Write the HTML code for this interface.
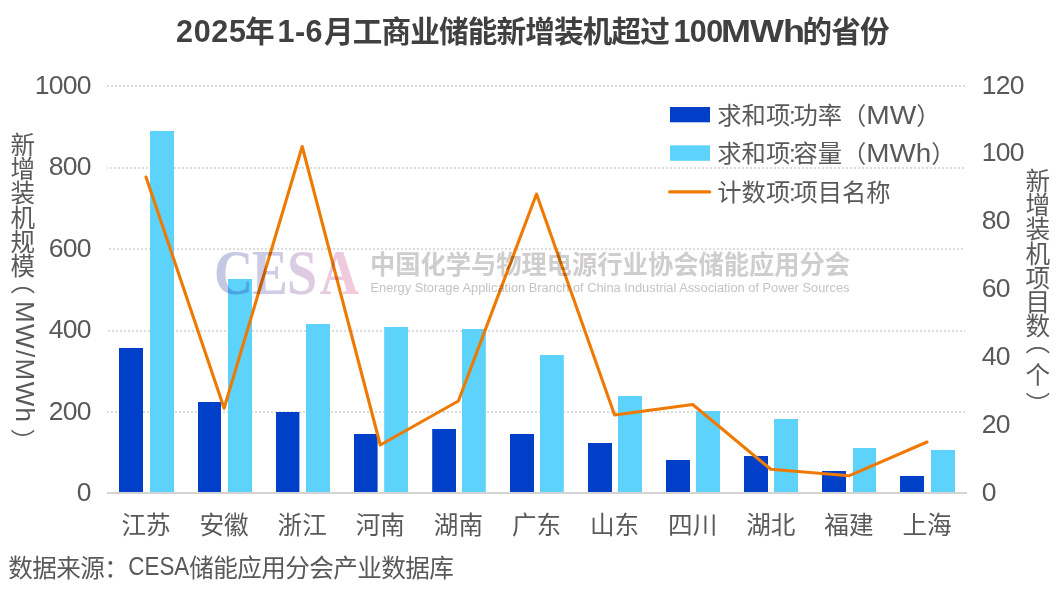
<!DOCTYPE html>
<html lang="zh-CN"><head><meta charset="utf-8"><title>2025年1-6月工商业储能新增装机超过100MWh的省份</title>
<style>html,body{margin:0;padding:0;background:#fff;}body{width:1064px;height:589px;overflow:hidden;}svg{display:block;position:absolute;left:0;top:0;}.vt{position:absolute;writing-mode:vertical-rl;text-orientation:mixed;font-family:'Liberation Sans','Noto Sans CJK SC',sans-serif;font-size:24.6px;line-height:24px;width:24px;letter-spacing:-0.3px;color:#595959;white-space:nowrap;}.lat{font-size:26px;letter-spacing:1.4px;position:relative;left:5px;top:-1px;}.pl{position:relative;top:-9px;}.pr{position:relative;top:4px;}text{font-family:'Liberation Sans','Noto Sans CJK SC',sans-serif;fill:#595959;}</style></head><body>
<svg width="1064" height="589" viewBox="0 0 1064 589">
<defs><linearGradient id="wg" x1="0" y1="0" x2="1" y2="0"><stop offset="0" stop-color="#C3C7E3"/><stop offset="0.45" stop-color="#D2CCE5"/><stop offset="0.7" stop-color="#E2CBE0"/><stop offset="1" stop-color="#F5CADC"/></linearGradient></defs>
<rect width="1064" height="589" fill="#fff"/>
<line x1="107.0" y1="86" x2="965.0" y2="86" stroke="#DCDCDC" stroke-width="2" stroke-dasharray="2 2" stroke-dashoffset="0"/>
<line x1="107.0" y1="168" x2="965.0" y2="168" stroke="#DCDCDC" stroke-width="2" stroke-dasharray="2 2" stroke-dashoffset="1"/>
<line x1="107.0" y1="249" x2="965.0" y2="249" stroke="#DCDCDC" stroke-width="2" stroke-dasharray="2 2" stroke-dashoffset="2"/>
<line x1="107.0" y1="331" x2="965.0" y2="331" stroke="#DCDCDC" stroke-width="2" stroke-dasharray="2 2" stroke-dashoffset="3"/>
<line x1="107.0" y1="412" x2="965.0" y2="412" stroke="#DCDCDC" stroke-width="2" stroke-dasharray="2 2" stroke-dashoffset="0"/>
<rect x="119" y="348" width="24" height="145" fill="#0040C8"/>
<rect x="150" y="131" width="24" height="362" fill="#5DD3FC"/>
<rect x="198" y="402" width="23" height="91" fill="#0040C8"/>
<rect x="228" y="279" width="24" height="214" fill="#5DD3FC"/>
<rect x="276" y="412" width="23.4" height="81" fill="#0040C8"/>
<rect x="306" y="324" width="24" height="169" fill="#5DD3FC"/>
<rect x="354" y="434" width="23.6" height="59" fill="#0040C8"/>
<rect x="384.2" y="327" width="23.8" height="166" fill="#5DD3FC"/>
<rect x="432.2" y="429" width="23.8" height="64" fill="#0040C8"/>
<rect x="462" y="329" width="23.8" height="164" fill="#5DD3FC"/>
<rect x="510" y="434" width="24" height="59" fill="#0040C8"/>
<rect x="540" y="355" width="23.8" height="138" fill="#5DD3FC"/>
<rect x="588" y="443" width="24" height="50" fill="#0040C8"/>
<rect x="618" y="396" width="24" height="97" fill="#5DD3FC"/>
<rect x="666" y="460" width="24" height="33" fill="#0040C8"/>
<rect x="696" y="411" width="24" height="82" fill="#5DD3FC"/>
<rect x="744" y="456" width="24" height="37" fill="#0040C8"/>
<rect x="774" y="419" width="24" height="74" fill="#5DD3FC"/>
<rect x="822" y="471" width="24" height="22" fill="#0040C8"/>
<rect x="853" y="448" width="23" height="45" fill="#5DD3FC"/>
<rect x="900" y="476" width="24" height="17" fill="#0040C8"/>
<rect x="931" y="450" width="24" height="43" fill="#5DD3FC"/>
<line x1="107.0" y1="493" x2="967.0" y2="493" stroke="#D3D3D3" stroke-width="2"/>
<polyline points="146.0,177 224.1,408.2 302.2,146.5 380.3,445 458.4,401 536.5,194 614.6,415 692.7,404.5 770.8,469.3 848.9,475.8 927.0,442" fill="none" stroke="#EE7A04" stroke-width="3.1" stroke-linejoin="round" stroke-linecap="round"/>
<g style="mix-blend-mode:multiply">
<text transform="translate(214,294) scale(0.8465,1)" x="0 44.6 86.2 125" y="0" style="font-family:'Liberation Serif','Noto Serif CJK SC',serif;font-weight:bold;font-size:64px;fill:url(#wg)">CESA</text>
<text x="370" y="273.9" textLength="480" lengthAdjust="spacingAndGlyphs" style="font-weight:bold;font-size:25.6px;fill:#CFCECD">中国化学与物理电源行业协会储能应用分会</text>
<text x="370.5" y="292.1" textLength="479" lengthAdjust="spacingAndGlyphs" style="font-size:12.4px;fill:#C4C4C4">Energy Storage Application Branch of China Industrial Association of Power Sources</text>
</g>
<text x="176" y="41.5" style="font-weight:bold;font-size:29.6px;letter-spacing:-0.85px;fill:#404040"><tspan style="font-size:30.5px;letter-spacing:0.7px">2025</tspan><tspan x="245">年</tspan><tspan x="277.5" style="font-size:30.5px;letter-spacing:0.5px">1-6</tspan><tspan x="324">月工商业储能新增装机超过</tspan><tspan x="673.5" style="font-size:30.5px;letter-spacing:-0.6px">100</tspan><tspan x="721" textLength="83" lengthAdjust="spacingAndGlyphs" style="font-size:30.5px">MWh</tspan><tspan x="802.5">的省份</tspan></text>
<text x="90.8" y="93.6" text-anchor="end" style="font-size:26.5px;letter-spacing:-0.7px">1000</text>
<text x="90.8" y="175.3" text-anchor="end" style="font-size:26.5px;letter-spacing:-0.7px">800</text>
<text x="90.8" y="256.6" text-anchor="end" style="font-size:26.5px;letter-spacing:-0.7px">600</text>
<text x="90.8" y="338.3" text-anchor="end" style="font-size:26.5px;letter-spacing:-0.7px">400</text>
<text x="90.8" y="419.6" text-anchor="end" style="font-size:26.5px;letter-spacing:-0.7px">200</text>
<text x="90.8" y="500.6" text-anchor="end" style="font-size:26.5px;letter-spacing:-0.7px">0</text>
<text x="981.8" y="93.6" style="font-size:26.5px;letter-spacing:-0.7px">120</text>
<text x="981.8" y="161.4" style="font-size:26.5px;letter-spacing:-0.7px">100</text>
<text x="981.8" y="229.3" style="font-size:26.5px;letter-spacing:-0.7px">80</text>
<text x="981.8" y="297.1" style="font-size:26.5px;letter-spacing:-0.7px">60</text>
<text x="981.8" y="364.9" style="font-size:26.5px;letter-spacing:-0.7px">40</text>
<text x="981.8" y="432.8" style="font-size:26.5px;letter-spacing:-0.7px">20</text>
<text x="981.8" y="500.6" style="font-size:26.5px;letter-spacing:-0.7px">0</text>
<text x="146.0" y="533.5" text-anchor="middle" style="font-size:24.6px">江苏</text>
<text x="224.1" y="533.5" text-anchor="middle" style="font-size:24.6px">安徽</text>
<text x="302.2" y="533.5" text-anchor="middle" style="font-size:24.6px">浙江</text>
<text x="380.3" y="533.5" text-anchor="middle" style="font-size:24.6px">河南</text>
<text x="458.4" y="533.5" text-anchor="middle" style="font-size:24.6px">湖南</text>
<text x="536.5" y="533.5" text-anchor="middle" style="font-size:24.6px">广东</text>
<text x="614.6" y="533.5" text-anchor="middle" style="font-size:24.6px">山东</text>
<text x="692.7" y="533.5" text-anchor="middle" style="font-size:24.6px">四川</text>
<text x="770.8" y="533.5" text-anchor="middle" style="font-size:24.6px">湖北</text>
<text x="848.9" y="533.5" text-anchor="middle" style="font-size:24.6px">福建</text>
<text x="927.0" y="533.5" text-anchor="middle" style="font-size:24.6px">上海</text>
<text x="8.3" y="577" style="font-size:24.6px;letter-spacing:-0.6px">数据来源：<tspan dy="-2" textLength="61" lengthAdjust="spacingAndGlyphs" style="font-size:25px;letter-spacing:0">CESA</tspan><tspan dy="2">储能应用分会产业数据库</tspan></text>
<rect x="670" y="107" width="40" height="15.3" fill="#0040C8"/>
<rect x="670" y="145.3" width="40" height="15.5" fill="#5DD3FC"/>
<line x1="669.7" y1="191.9" x2="709.6" y2="191.9" stroke="#EE7A04" stroke-width="3.3" stroke-linecap="round"/>
<text x="717.3" y="124.4" style="font-size:24.3px">求和项<tspan dx="-1.2">:</tspan><tspan dx="-2.3">功率（</tspan><tspan textLength="50" lengthAdjust="spacingAndGlyphs" style="font-size:26px">MW</tspan>）</text>
<text x="717.3" y="162.3" style="font-size:24.3px">求和项<tspan dx="-1.2">:</tspan><tspan dx="-2.3">容量（</tspan><tspan textLength="65" lengthAdjust="spacingAndGlyphs" style="font-size:26px">MWh</tspan>）</text>
<text x="717.3" y="201.4" style="font-size:24.3px">计数项<tspan dx="-1.2">:</tspan><tspan dx="-2.3">项目名称</tspan></text>
</svg>
<div class="vt" style="left:7.8px;top:132.3px;">新增装机规模<span class="pl">（</span><span class="lat">MW/MWh</span><span class="pr">）</span></div>
<div class="vt" style="left:1022.8px;top:167.7px;">新增装机项目数<span class="pl">（</span><span style="position:relative;top:-0.5px">个</span><span class="pr" style="top:6px">）</span></div>
</body></html>
